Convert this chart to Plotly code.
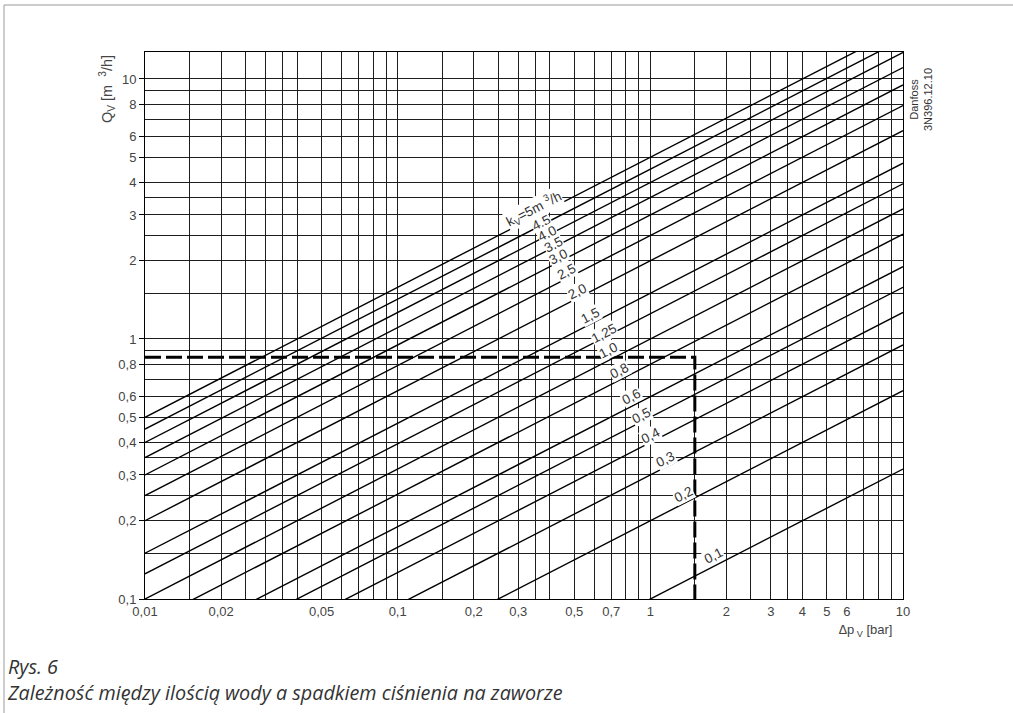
import numpy as np
import plotly.graph_objects as go

# ---- data ----
KV_VALUES = [5.0, 4.5, 4.0, 3.5, 3.0, 2.5, 2.0, 1.5, 1.25, 1.0, 0.8, 0.6, 0.5, 0.4, 0.3, 0.2, 0.1]
KV_LABELS = ["k<sub>V</sub>=5m <sup>3</sup>/h", "4,5", "4,0", "3,5", "3,0", "2,5", "2,0", "1,5",
             "1,25", "1,0", "0,8", "0,6", "0,5", "0,4", "0,3", "0,2", "0,1"]
DP_RANGE = [0.01, 10.0]          # bar
Q_EXAMPLE = 0.85                 # m3/h
DP_EXAMPLE = 1.5                 # bar
Q_BOTTOM = 0.1

X_TICKS = [0.01, 0.02, 0.05, 0.1, 0.2, 0.3, 0.5, 0.7, 1, 2, 3, 4, 5, 6, 10]
X_TICKTEXT = ["0,01", "0,02", "0,05", "0,1", "0,2", "0,3", "0,5", "0,7", "1", "2", "3", "4", "5", "6", "10"]
X_MINOR = [0.015, 0.025, 0.03, 0.035, 0.04, 0.06, 0.07, 0.08, 0.09,
           0.15, 0.25, 0.35, 0.4, 0.6, 0.8, 0.9, 1.5, 2.5, 3.5, 7, 8, 9]
Y_TICKS = [0.1, 0.2, 0.3, 0.4, 0.5, 0.6, 0.8, 1, 2, 3, 4, 5, 6, 8, 10]
Y_TICKTEXT = ["0,1", "0,2", "0,3", "0,4", "0,5", "0,6", "0,8", "1", "2", "3", "4", "5", "6", "8", "10"]
Y_MINOR = [0.15, 0.25, 0.35, 0.7, 0.9, 1.5, 2.5, 3.5, 7, 9]

# label placement along lines (dp position, pixel shift above line)
LABEL_DP = [0.345, 0.372, 0.391, 0.415, 0.435, 0.467, 0.514, 0.58, 0.655, 0.681,
            0.758, 0.843, 0.924, 1.003, 1.143, 1.35, 1.785]
LABEL_SHIFT = [8, 2, 1.5, 3, 5, 7, 6.5, 8, 4, 10, 9, 9.5, 6, 7, 8, 9.5, 11]

W, H = 1013, 713
L, R, T, B = 145, 110, 52, 114
PW, PH = W - L - R, H - T - B

fig = go.Figure()

x_line = np.array(DP_RANGE)
for kv in KV_VALUES:
    fig.add_trace(go.Scatter(x=x_line, y=kv * np.sqrt(x_line), mode="lines",
                             line=dict(color="black", width=1.4), hoverinfo="skip",
                             showlegend=False))

fig.add_trace(go.Scatter(x=[DP_RANGE[0], DP_EXAMPLE, DP_EXAMPLE],
                         y=[Q_EXAMPLE, Q_EXAMPLE, Q_BOTTOM], mode="lines",
                         line=dict(color="black", width=3, dash="16px,5px"),
                         hoverinfo="skip", showlegend=False))

tick_font = dict(family="Liberation Sans, Arial, sans-serif", size=13, color="#444")
grid_col = "#1e1e1e"

fig.update_xaxes(type="log", range=[np.log10(DP_RANGE[0]), np.log10(DP_RANGE[1])],
                 tickmode="array", tickvals=X_TICKS, ticktext=X_TICKTEXT,
                 ticks="", showgrid=True, gridcolor=grid_col, gridwidth=1,
                 showline=True, linecolor="black", linewidth=1, mirror=True,
                 tickfont=tick_font, zeroline=False,
                 minor=dict(tickmode="array", tickvals=X_MINOR, showgrid=True,
                            gridcolor=grid_col, gridwidth=1, ticks=""))
fig.update_yaxes(type="log", range=[-1, np.log10(12.7)],
                 tickmode="array", tickvals=Y_TICKS, ticktext=Y_TICKTEXT,
                 ticks="outside", ticklen=5, tickcolor="black", tickwidth=1,
                 showgrid=True, gridcolor=grid_col, gridwidth=1,
                 showline=True, linecolor="black", linewidth=1, mirror=True,
                 tickfont=tick_font, zeroline=False,
                 minor=dict(tickmode="array", tickvals=Y_MINOR, showgrid=True,
                            gridcolor=grid_col, gridwidth=1, ticks=""))

angle = -np.degrees(np.arctan(0.5 * (PH / np.log10(12.7 / 0.1)) / (PW / 3.0)))
label_font = dict(family="Liberation Sans, Arial, sans-serif", size=13.5, color="#333")
for kv, txt, dp, sh in zip(KV_VALUES, KV_LABELS, LABEL_DP, LABEL_SHIFT):
    fig.add_annotation(x=np.log10(dp), y=np.log10(kv * np.sqrt(dp)), xref="x", yref="y",
                       xanchor="center", yanchor="middle",
                       text=txt, showarrow=False, textangle=angle, yshift=sh,
                       font=label_font, bgcolor="white", borderpad=0)

def px_x(p):
    return (p - L) / PW

def px_y(p):
    return (H - B - p) / PH

fig.add_annotation(x=px_x(107), y=px_y(89), xref="paper", yref="paper",
                   xanchor="center", yanchor="middle",
                   text="Q<sub>V</sub> [m  <sup>3</sup>/h]", showarrow=False, textangle=-90,
                   font=dict(family="Liberation Sans, Arial, sans-serif", size=14.5, color="#444"))
fig.add_annotation(x=px_x(894), y=px_y(630), xref="paper", yref="paper",
                   xanchor="right", yanchor="middle",
                   text="<i>∆</i>p<sub> V</sub> [bar]", showarrow=False,
                   font=dict(family="Liberation Sans, Arial, sans-serif", size=13, color="#444"))
fig.add_annotation(x=px_x(921), y=px_y(100), xref="paper", yref="paper",
                   xanchor="center", yanchor="middle",
                   text="Danfoss<br>3N396.12.10", showarrow=False, textangle=-90,
                   font=dict(family="Liberation Sans, Arial, sans-serif", size=11, color="#333"))
cap_font = dict(family="Open Sans, Noto Sans, sans-serif", size=19.8, color="#333")
fig.add_annotation(x=px_x(5), y=px_y(679), xref="paper", yref="paper",
                   xanchor="left", yanchor="middle", align="left",
                   text="<i>Rys. 6</i><br><i>Zależność między ilością wody a spadkiem ciśnienia na zaworze</i>",
                   showarrow=False, font=cap_font)

# outer frame
fig.add_shape(type="line", xref="paper", yref="paper", x0=px_x(4), x1=px_x(W), y0=px_y(5), y1=px_y(5),
              line=dict(color="#999", width=1))
fig.add_shape(type="line", xref="paper", yref="paper", x0=px_x(4), x1=px_x(4), y0=px_y(5), y1=px_y(H),
              line=dict(color="#999", width=1))

fig.update_layout(width=W, height=H, autosize=False,
                  margin=dict(l=L, r=R, t=T, b=B, pad=0),
                  paper_bgcolor="white", plot_bgcolor="white", showlegend=False)

fig.write_html("out.html", config={"displayModeBar": False},
               post_script="document.body.style.margin='0';document.body.style.overflow='hidden';")
